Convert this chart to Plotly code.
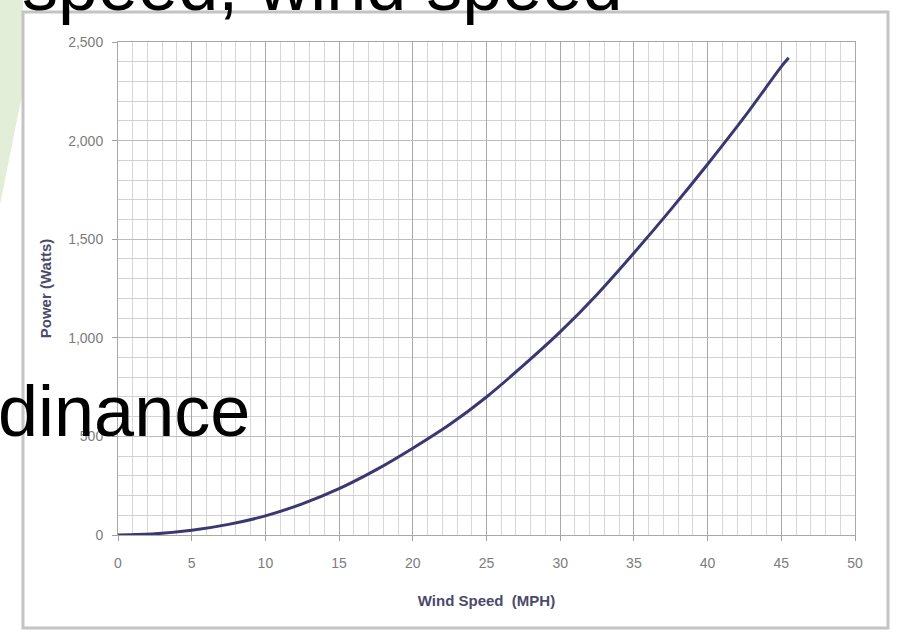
import plotly.graph_objects as go

# ---- data ----
wind_speed_mph = [0, 2.5, 5, 7.5, 10, 12.5, 15, 17.5, 20, 22.5, 25, 27.5,
                  30, 32.5, 35, 37.5, 40, 42.5, 45, 45.5]
power_watts = [0, 6, 24, 54, 97, 158, 235, 330, 440, 560, 700, 860,
               1030, 1220, 1430, 1650, 1880, 2120, 2375, 2420]
x_ticks = [0, 5, 10, 15, 20, 25, 30, 35, 40, 45, 50]
y_ticks = [0, 500, 1000, 1500, 2000, 2500]

W, H = 897, 634
L, R, T, B = 118, 855, 42, 535  # plot area in pixels


def px(xp):
    return (xp - L) / (R - L)


def py(yp):
    return (B - yp) / (B - T)


fig = go.Figure()
fig.add_trace(go.Scatter(
    x=wind_speed_mph, y=power_watts, mode="lines",
    line=dict(color="#3a3870", width=3, shape="spline", smoothing=0.8),
    hoverinfo="skip", showlegend=False,
))

tick_font = dict(family="Liberation Sans, Arial, sans-serif", size=14, color="#7c7c7c")
title_font = dict(family="Liberation Sans, Arial, sans-serif", size=15, color="#4a4a6a")

fig.update_xaxes(
    range=[0, 50], tickvals=x_ticks, ticks="outside", ticklen=5, tickcolor="#a0a0a0",
    showline=True, linecolor="#a8a8a8", linewidth=1, mirror=True,
    showgrid=True, gridcolor="#a8a8a8", gridwidth=1,
    minor=dict(dtick=1, showgrid=True, gridcolor="#d6d6d6", gridwidth=1),
    tickfont=tick_font, zeroline=False, ticklabelstandoff=10,
    title=dict(text="<b>Wind Speed\u00a0 (MPH)</b>", font=title_font, standoff=25),
)
fig.update_yaxes(
    range=[0, 2500], tickvals=y_ticks, tickformat=",", ticks="outside", ticklen=5,
    tickcolor="#a0a0a0",
    showline=True, linecolor="#a8a8a8", linewidth=1, mirror=True,
    showgrid=True, gridcolor="#bcbcbc", gridwidth=1,
    minor=dict(dtick=100, showgrid=True, gridcolor="#d2d2d2", gridwidth=1),
    tickfont=tick_font, zeroline=False, ticklabelstandoff=6,
    title=dict(text="<b>Power (Watts)</b>", font=title_font, standoff=12),
)

shapes = [
    # pale green slide decoration at left
    dict(type="path", xref="paper", yref="paper", layer="below",
         path=f"M {px(0)},{py(0)} L {px(23)},{py(0)} L {px(23)},{py(90)} L {px(0)},{py(205)} Z",
         fillcolor="#e3eed8", line=dict(width=0)),
    # chart outer frame
    dict(type="rect", xref="paper", yref="paper", layer="below",
         x0=px(23), x1=px(888), y0=py(628), y1=py(12),
         line=dict(color="#c4c4c4", width=3), fillcolor="white"),
]

annotations = [
    dict(text="speed, wind speed", xref="paper", yref="paper",
         x=px(624), y=py(-15), xanchor="right", yanchor="middle", showarrow=False,
         font=dict(family="Liberation Sans, Arial, sans-serif", size=72, color="black")),
    dict(text="dinance", xref="paper", yref="paper",
         x=px(252), y=py(411), xanchor="right", yanchor="middle", showarrow=False,
         font=dict(family="Liberation Sans, Arial, sans-serif", size=72, color="black")),
]

fig.update_layout(
    width=W, height=H,
    margin=dict(l=L, r=W - R, t=T, b=H - B),
    paper_bgcolor="white", plot_bgcolor="white",
    shapes=shapes, annotations=annotations,
    showlegend=False,
)

fig.write_html("out.html", config={"displayModeBar": False},
               post_script="document.body.style.margin='0';")
